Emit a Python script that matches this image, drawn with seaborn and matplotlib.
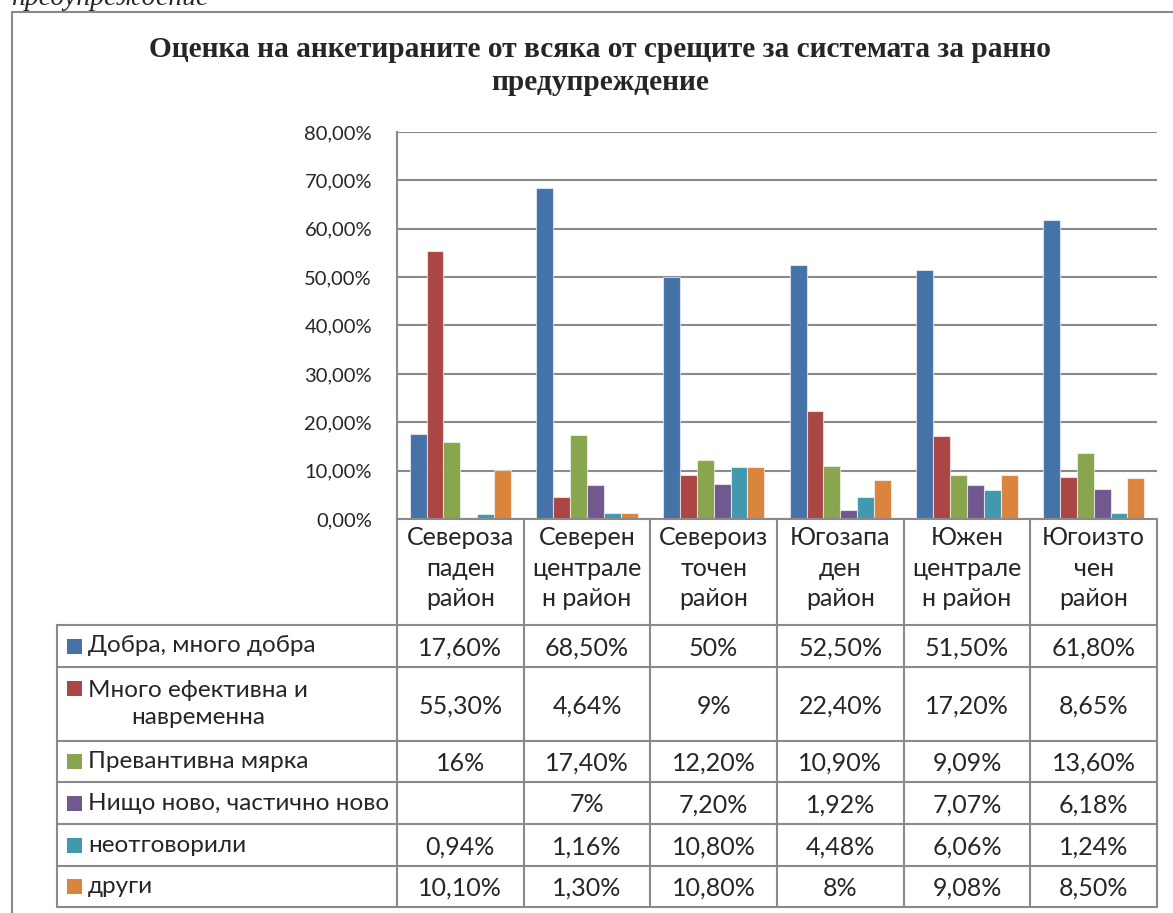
import numpy as np
import pandas as pd
import seaborn as sns
import matplotlib.pyplot as plt
import matplotlib.transforms as mtransforms
from matplotlib.lines import Line2D
from matplotlib.patches import Rectangle

regions = ["Североза\nпаден\nрайон", "Северен\nцентрале\nн район", "Североиз\nточен\nрайон",
           "Югозапа\nден\nрайон", "Южен\nцентрале\nн район", "Югоизто\nчен\nрайон"]
answers = ["Добра, много добра", "Много ефективна и\nнавременна", "Превантивна мярка",
           "Нищо ново, частично ново", "неотговорили", "други"]
good = [17.6, 68.5, 50, 52.5, 51.5, 61.8]
effective = [55.3, 4.64, 9, 22.4, 17.2, 8.65]
preventive = [16, 17.4, 12.2, 10.9, 9.09, 13.6]
nothing_new = [np.nan, 7, 7.2, 1.92, 7.07, 6.18]
no_answer = [0.94, 1.16, 10.8, 4.48, 6.06, 1.24]
other = [10.1, 1.3, 10.8, 8, 9.08, 8.5]
series = [good, effective, preventive, nothing_new, no_answer, other]
colors = ["#4572A7", "#AA4643", "#89A54E", "#71588F", "#4198AF", "#DB843D"]
yticks = [0, 10, 20, 30, 40, 50, 60, 70, 80]

title = "Оценка на анкетираните от всяка от срещите за системата за ранно\nпредупреждение"

rows = []
for ans, vals in zip(answers, series):
    for reg, v in zip(regions, vals):
        rows.append({"region": reg, "answer": ans, "value": v})
df = pd.DataFrame(rows)


def pct(v):
    # Excel shows whole numbers without decimals
    if np.isnan(v):
        return ""
    if float(v).is_integer():
        return f"{int(v)}%"
    return f"{v:.2f}%".replace(".", ",")


sns.set_style("white")
plt.rcParams["font.family"] = ["Lato", "Open Sans", "DejaVu Sans"]

W, H = 1173, 913
fig = plt.figure(figsize=(W / 100, H / 100), dpi=100)


def fx(x):
    return x / W


def fy(y):
    return 1 - y / H


grey = "#8a8a8a"
fs = 18
ax = fig.add_axes([fx(397), fy(519), fx(1157) - fx(397), fy(132) - fy(519)])
sns.barplot(data=df.dropna(), x="region", y="value", hue="answer", order=regions,
            hue_order=answers, palette=colors, saturation=1, errorbar=None,
            width=0.8, edgecolor=(1, 1, 1, 0.6), linewidth=0.8, legend=False, ax=ax)

ax.set_xlim(-0.5, 5.5)
ax.set_ylim(0, 80)
ax.set_yticks(yticks)
ax.set_yticklabels([f"{v:.2f}%".replace(".", ",") for v in yticks], fontsize=14.5)
ax.set_xticks(range(len(regions)))
ax.set_xticklabels(regions, fontsize=fs, linespacing=1.4)
ax.tick_params(axis="y", length=0, pad=18)
ax.tick_params(axis="x", length=0, pad=5)
ax.set_xlabel("")
ax.set_ylabel("")
ax.yaxis.grid(True, color=grey, lw=1.5)
ax.set_axisbelow(True)
for s in ["top", "right"]:
    ax.spines[s].set_visible(False)
for s in ["left", "bottom"]:
    ax.spines[s].set_color(grey)
    ax.spines[s].set_linewidth(1.5)

# data table under the axis
blend = mtransforms.blended_transform_factory(ax.transData, fig.transFigure)
row_edges = [625, 667, 741, 782, 824, 866, 907]
for y in row_edges:
    fig.add_artist(Line2D([fx(57), fx(1157)], [fy(y), fy(y)], color=grey, lw=1.5,
                          transform=fig.transFigure))
fig.add_artist(Line2D([fx(57), fx(57)], [fy(625), fy(907)], color=grey, lw=1.5,
                      transform=fig.transFigure))
for b in np.arange(-0.5, len(regions), 1):
    fig.add_artist(Line2D([b, b], [fy(519), fy(907)], color=grey, lw=1.5, transform=blend))

for i, (ans, vals) in enumerate(zip(answers, series)):
    yc = (row_edges[i] + row_edges[i + 1]) / 2
    nlines = ans.count("\n") + 1
    ysq = yc - (nlines - 1) * 16
    fig.add_artist(Rectangle((fx(67), fy(ysq + 7.5)), fx(15), fy(ysq - 7.5) - fy(ysq + 7.5),
                             transform=fig.transFigure, color=colors[i], lw=0))
    fig.text(fx(88), fy(yc), ans, ha="left", va="center", multialignment="center",
             fontsize=17.5, linespacing=1.3)
    for j, v in enumerate(vals):
        fig.text(j, fy(yc), pct(v), ha="center", va="center_baseline", fontsize=fs,
                 transform=blend)

for k, line in enumerate(title.split("\n")):
    fig.text(fx(600), fy(57 + 33 * k), line, ha="center", va="baseline", fontsize=21.2,
             fontweight="bold", family="Liberation Serif")
fig.text(fx(11), fy(5), "предупреждение", ha="left", va="baseline", fontsize=20,
         style="italic", family="Liberation Serif")
fig.add_artist(Rectangle((fx(12), -0.1), 1.2, fy(12) + 0.1, transform=fig.transFigure,
                         fill=False, edgecolor=grey, lw=1.5))

fig.savefig("out.png", dpi=100)
